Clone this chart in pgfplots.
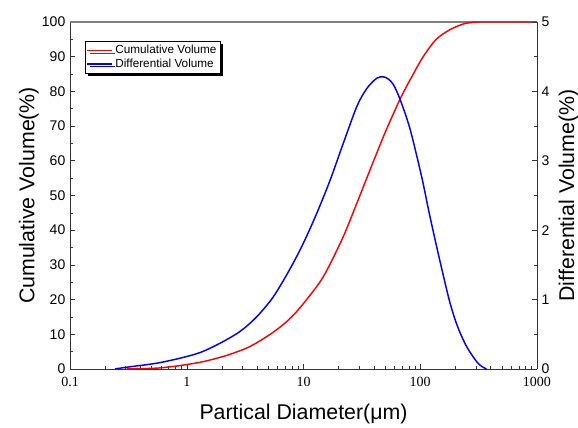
\documentclass[border=0pt]{standalone}
\usepackage{pgfplots}
\pgfplotsset{compat=1.18}
\usepackage{fontspec}
\setmainfont{Liberation Sans}
\newfontfamily\serifnum{Liberation Serif}
\usetikzlibrary{shadows}

\pgfplotstableread{
d v
0.306 0
0.45 0.1
0.6 0.3
0.875 0.95
1.3 1.9
1.69 2.8
2.3 4.1
3.26 6.0
4.2 8.0
5.52 10.6
7 13.3
8.73 16.5
11 20.6
13.8 25.0
16.3 29.2
21.9 38.1
28.6 47.7
37.1 57.3
48.3 66.9
58.8 73.5
69.3 78.7
84 84.0
106 90.0
137 95
180 97.8
233 99.4
282 99.9
320 100
1000 100
}\cumul

\pgfplotstableread{
d v
0.243 0
0.326 0.03
0.45 0.06
0.59 0.09
0.875 0.154
1.3 0.235
1.93 0.37
2.86 0.54
3.97 0.75
5.52 1.04
7.66 1.44
9.96 1.81
12.97 2.24
16.9 2.72
21.9 3.25
28.6 3.78
34.8 4.04
42.4 4.19
48.3 4.21
53 4.18
58.8 4.10
67 3.89
81.7 3.46
102.8 2.77
121 2.2
147.7 1.55
180 0.95
210 0.6
250 0.32
304 0.105
340 0.03
370 0
}\diffv

\begin{document}
\begin{tikzpicture}
\begin{axis}[at={(0,0)}, anchor=south west, scale only axis,
  width=350pt, height=260pt,
  xmode=log, xmin=0.1, xmax=1000, ymin=0, ymax=100,
  axis x line*=bottom, axis y line*=left, clip=false,
  xtick={0.1,1,10,100,1000}, xticklabels={0.1,1,10,100,1000},
  ytick={0,10,...,100}, minor y tick num=1,
  tick align=inside,
  major tick length=4pt, minor tick length=2.5pt,
  /pgf/number format/assume math mode=true,
  xticklabel style={font=\serifnum\fontsize{10.5}{12}\selectfont, yshift=-3pt},
  yticklabel style={font=\fontsize{10.5}{12}\selectfont},
  label style={font=\fontsize{16}{19}\selectfont},
  xlabel style={yshift=-6pt},
  ylabel style={yshift=-4.5pt},
  xlabel={Partical Diameter(μm)}, ylabel={Cumulative Volume(\%)},
  axis line style={-, draw=black!80}, every tick/.style={black!80},
]
\draw[black!50, line width=0.9pt] (rel axis cs:0,1) -- (rel axis cs:1,1);
\addplot[red, line width=1.1pt, smooth] table[x=d, y=v] {\cumul};
\end{axis}
\begin{axis}[at={(0,0)}, anchor=south west, scale only axis,
  width=350pt, height=260pt,
  xmode=log, xmin=0.1, xmax=1000, ymin=0, ymax=5,
  axis x line=none, axis y line*=right,
  ytick={0,1,...,5}, minor y tick num=1,
  tick align=inside,
  major tick length=4pt, minor tick length=2.5pt,
  /pgf/number format/assume math mode=true,
  yticklabel style={font=\fontsize{10.5}{12}\selectfont},
  label style={font=\fontsize{16}{19}\selectfont},
  ylabel={Differential Volume(\%)},
  axis line style={-, draw=black!80}, every tick/.style={black!80},
  legend cell align=left,
  legend style={at={(0.032,0.945)}, anchor=north west, draw=black, fill=white,
    font=\fontsize{8.8}{10}\selectfont, inner sep=1pt, row sep=-2pt,
    drop shadow={shadow xshift=2.2pt, shadow yshift=-2.2pt, fill=black, opacity=1}},
  legend image code/.code={\draw[#1] (0cm,0cm) -- (0.65cm,0cm);},
]
\addlegendimage{red, line width=1.1pt}
\addlegendentry{Cumulative Volume}
\addplot[blue, line width=1.1pt, smooth] table[x=d, y=v] {\diffv};
\addlegendentry{Differential Volume}
\end{axis}
\pgfresetboundingbox
\useasboundingbox (-52.5pt,-44.25pt) rectangle (380.75pt,276.5pt);
\end{tikzpicture}
\end{document}
